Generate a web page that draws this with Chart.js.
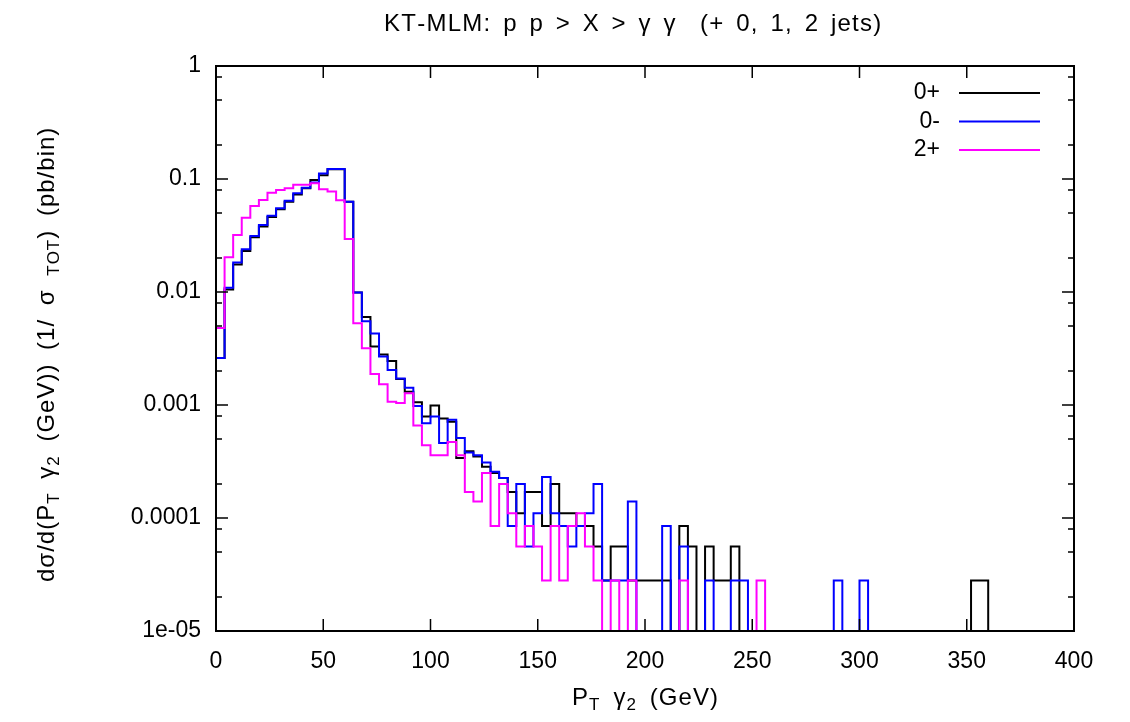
<!DOCTYPE html>
<html>
<head>
<meta charset="utf-8">
<script src="https://cdn.jsdelivr.net/npm/chart.js@4.4.1/dist/chart.umd.min.js"></script>
<style>
  html, body { margin: 0; padding: 0; background: #fff; }
  #wrap { width: 1130px; height: 722px; }
</style>
</head>
<body>
<div id="wrap"><canvas id="chart"></canvas></div>
<script>
// histogram bins: 4 GeV wide, 0..400 GeV
const binWidth = 4;
const binCount = 100;

// d sigma / d pT(gamma2), normalised, one value per bin (0 = empty bin)
const zeroPlus = [
  0.0026, 0.0105, 0.0175, 0.023, 0.0305, 0.038, 0.046, 0.054, 0.063, 0.073,
  0.083, 0.098, 0.108, 0.122, 0.122, 0.063, 0.0099, 0.006, 0.0033, 0.0028,
  0.00245, 0.0017, 0.00131, 0.00106, 0.00079, 0.00099, 0.00076, 0.00071, 0.00034, 0.00039,
  0.00035, 0.000284, 0.00025, 0.000226, 1.7e-4, 1.1e-4, 1.7e-4, 1.7e-4, 8.5e-5, 2.0e-4,
  1.1e-4, 1.1e-4, 8.5e-5, 8.5e-5, 5.6e-5, 2.8e-5, 5.6e-5, 5.6e-5, 2.8e-5, 2.8e-5,
  2.8e-5, 2.8e-5, 2.8e-5, 0, 8.5e-5, 5.6e-5, 0, 5.6e-5, 2.8e-5, 2.8e-5,
  5.6e-5, 0, 0, 0, 0, 0, 0, 0, 0, 0,
  0, 0, 0, 0, 0, 0, 0, 0, 0, 0,
  0, 0, 0, 0, 0, 0, 0, 0, 2.8e-5, 2.8e-5,
  0, 0, 0, 0, 0, 0, 0, 0, 0, 0
];
const zeroMinus = [
  0.0026, 0.0109, 0.0182, 0.0239, 0.0313, 0.0392, 0.0473, 0.055, 0.0643, 0.0747,
  0.0838, 0.093, 0.112, 0.1226, 0.1226, 0.063, 0.0099, 0.0055, 0.0043, 0.00268,
  0.00204, 0.00172, 0.00142, 0.00098, 0.00069, 0.00079, 0.00046, 0.00074, 0.00051, 0.00038,
  0.00036, 0.00031, 0.000257, 0.000226, 8.5e-5, 2.0e-4, 5.6e-5, 1.1e-4, 2.3e-4, 1.1e-4,
  8.5e-5, 5.6e-5, 8.5e-5, 1.1e-4, 2.0e-4, 2.8e-5, 2.8e-5, 2.8e-5, 1.4e-4, 0,
  0, 0, 8.5e-5, 0, 5.6e-5, 0, 0, 2.8e-5, 0, 0,
  2.8e-5, 2.8e-5, 0, 0, 0, 0, 0, 0, 0, 0,
  0, 0, 2.8e-5, 0, 0, 2.8e-5, 0, 0, 0, 0,
  0, 0, 0, 0, 0, 0, 0, 0, 0, 0,
  0, 0, 0, 0, 0, 0, 0, 0, 0, 0
];
const twoPlus = [
  0.0048, 0.0203, 0.0319, 0.0455, 0.0577, 0.0652, 0.0757, 0.080, 0.083, 0.089,
  0.089, 0.0915, 0.081, 0.0774, 0.065, 0.0294, 0.0053, 0.00318, 0.00188, 0.00153,
  0.00107, 0.00104, 0.00127, 0.00066, 0.00044, 0.00036, 0.00036, 0.00047, 0.00036, 1.7e-4,
  1.4e-4, 2.5e-4, 8.5e-5, 2.0e-4, 1.1e-4, 5.6e-5, 8.5e-5, 5.6e-5, 2.8e-5, 8.5e-5,
  2.8e-5, 8.5e-5, 1.1e-4, 5.6e-5, 2.8e-5, 0, 2.8e-5, 0, 2.8e-5, 0,
  0, 0, 0, 0, 2.8e-5, 0, 0, 0, 0, 0,
  0, 0, 0, 2.8e-5, 0, 0, 0, 0, 0, 0,
  0, 0, 0, 0, 0, 0, 0, 0, 0, 0,
  0, 0, 0, 0, 0, 0, 0, 0, 0, 0,
  0, 0, 0, 0, 0, 0, 0, 0, 0, 0
];

const seriesNames = ['0+', '0-', '2+'];
const seriesColors = ['#000000', '#0000ff', '#ff00ff'];

const xTickValues = [0, 50, 100, 150, 200, 250, 300, 350, 400];
const yTickValues = [1, 0.1, 0.01, 0.001, 0.0001, 0.00001];
const yTickLabels = ['1', '0.1', '0.01', '0.001', '0.0001', '1e-05'];
const yMinorSteps = [2, 5, 8];

const FONT = '"Liberation Sans", Arial, Helvetica, sans-serif';
// empty bins can't sit on a log axis: draw them below the floor and let the clip cut them
const EMPTY_LEVEL = 1e-7;

// step outline: start on the floor at x=0, one point per left bin edge, close at 400
function toSteps(values) {
  const lv = v => (v > 0 ? v : EMPTY_LEVEL);
  const pts = [{ x: 0, y: EMPTY_LEVEL }];
  values.forEach((v, i) => pts.push({ x: i * binWidth, y: lv(v) }));
  pts.push({ x: binCount * binWidth, y: lv(values[values.length - 1]) });
  return pts;
}

// draw text pieces (for subscripts) so the run spans `width`, centred on x;
// half of the slack goes to blanks, half is spread over all characters
function drawParts(ctx, parts, x, y, width) {
  let natural = 0, blanks = 0, chars = 0;
  parts.forEach(p => {
    ctx.font = p.size + 'px ' + FONT;
    natural += ctx.measureText(p.text).width;
    blanks += p.text.split(' ').length - 1;
    chars += p.text.length;
  });
  const slack = Math.max(width - natural, 0);
  const perBlank = blanks ? slack * 0.5 / blanks : 0;
  const perChar = (slack - perBlank * blanks) / Math.max(chars - 1, 1);
  let cx = x - width / 2;
  ctx.textAlign = 'left';
  ctx.textBaseline = 'alphabetic';
  parts.forEach(p => {
    ctx.font = p.size + 'px ' + FONT;
    for (const ch of p.text) {
      if (ch !== ' ') ctx.fillText(ch, cx, y + (p.dy || 0));
      cx += ctx.measureText(ch).width + perChar + (ch === ' ' ? perBlank : 0);
    }
  });
}

const gnuplotLook = {
  id: 'gnuplotLook',
  afterDatasetsDraw(chart) {
    const ctx = chart.ctx;
    const area = chart.chartArea;
    const xs = chart.scales.x;
    const ys = chart.scales.y;
    ctx.save();
    ctx.strokeStyle = '#000';
    ctx.lineWidth = 2;
    ctx.strokeRect(area.left, area.top, area.right - area.left, area.bottom - area.top);

    // x ticks (inside, top and bottom)
    ctx.lineWidth = 1.5;
    ctx.beginPath();
    xTickValues.forEach(v => {
      const px = xs.getPixelForValue(v);
      ctx.moveTo(px, area.bottom); ctx.lineTo(px, area.bottom - 12);
      ctx.moveTo(px, area.top); ctx.lineTo(px, area.top + 12);
    });
    // y ticks, major and minor (inside, left and right)
    yTickValues.forEach(v => {
      const py = ys.getPixelForValue(v);
      ctx.moveTo(area.left, py); ctx.lineTo(area.left + 12, py);
      ctx.moveTo(area.right, py); ctx.lineTo(area.right - 12, py);
      if (v < 1) {
        yMinorSteps.forEach(m => {
          const pm = ys.getPixelForValue(v * m);
          ctx.moveTo(area.left, pm); ctx.lineTo(area.left + 6, pm);
          ctx.moveTo(area.right, pm); ctx.lineTo(area.right - 6, pm);
        });
      }
    });
    ctx.stroke();

    // key
    ctx.fillStyle = '#000';
    seriesNames.forEach((name, i) => {
      const ly = 93 + i * 28.5;
      ctx.font = '23px ' + FONT;
      ctx.textAlign = 'right';
      ctx.textBaseline = 'middle';
      ctx.fillText(name, 940, ly);
      ctx.strokeStyle = seriesColors[i];
      ctx.lineWidth = 2;
      ctx.beginPath();
      ctx.moveTo(959, ly); ctx.lineTo(1040, ly);
      ctx.stroke();
    });

    // title
    ctx.fillStyle = '#000';
    drawParts(ctx, [{ text: 'KT-MLM: p p > X > \u03b3 \u03b3  (+ 0, 1, 2 jets)', size: 24 }], 632, 31, 496);

    // x axis title
    drawParts(ctx, [
      { text: 'P', size: 24 },
      { text: 'T', size: 17, dy: 5 },
      { text: ' \u03b3', size: 24 },
      { text: '2', size: 17, dy: 5 },
      { text: ' (GeV)', size: 24 }
    ], 645, 705, 146);

    // y axis title, rotated
    ctx.translate(54, 355);
    ctx.rotate(-Math.PI / 2);
    drawParts(ctx, [
      { text: 'd\u03c3/d(P', size: 24 },
      { text: 'T', size: 17, dy: 5 },
      { text: ' \u03b3', size: 24 },
      { text: '2', size: 17, dy: 5 },
      { text: ' (GeV)) (1/ \u03c3 ', size: 24 },
      { text: 'TOT', size: 17, dy: 5 },
      { text: ') (pb/bin)', size: 24 }
    ], 0, 0, 454);
    ctx.restore();
  }
};

const datasets = [zeroPlus, zeroMinus, twoPlus].map((vals, i) => ({
  label: seriesNames[i],
  data: toSteps(vals),
  borderColor: seriesColors[i],
  borderWidth: 2,
  stepped: 'before',
  pointRadius: 0,
  fill: false,
  clip: { left: 1, right: 1, top: 1, bottom: 1 },
  order: 3 - i
}));

new Chart(document.getElementById('chart'), {
  type: 'line',
  data: { datasets: datasets },
  options: {
    responsive: true,
    maintainAspectRatio: false,
    animation: false,
    layout: { padding: { top: 66, right: 56, bottom: 0, left: 0 } },
    plugins: {
      legend: { display: false },
      title: { display: false },
      tooltip: { enabled: false }
    },
    scales: {
      x: {
        type: 'linear',
        min: 0,
        max: 400,
        grid: { display: false, drawTicks: false },
        border: { display: false },
        afterFit: s => { s.height = 91; },
        afterBuildTicks: s => { s.ticks = xTickValues.map(v => ({ value: v })); },
        ticks: {
          padding: 17,
          maxRotation: 0,
          autoSkip: false,
          color: '#000',
          font: { family: FONT, size: 23 },
          callback: v => String(v)
        }
      },
      y: {
        type: 'logarithmic',
        min: 0.00001,
        max: 1,
        grid: { display: false, drawTicks: false },
        border: { display: false },
        afterFit: s => { s.width = 216; },
        afterBuildTicks: s => { s.ticks = yTickValues.map(v => ({ value: v })); },
        ticks: {
          padding: 15,
          autoSkip: false,
          color: '#000',
          font: { family: FONT, size: 23 },
          callback: v => yTickLabels[yTickValues.indexOf(v)]
        }
      }
    }
  },
  plugins: [gnuplotLook]
});
</script>
</body>
</html>
